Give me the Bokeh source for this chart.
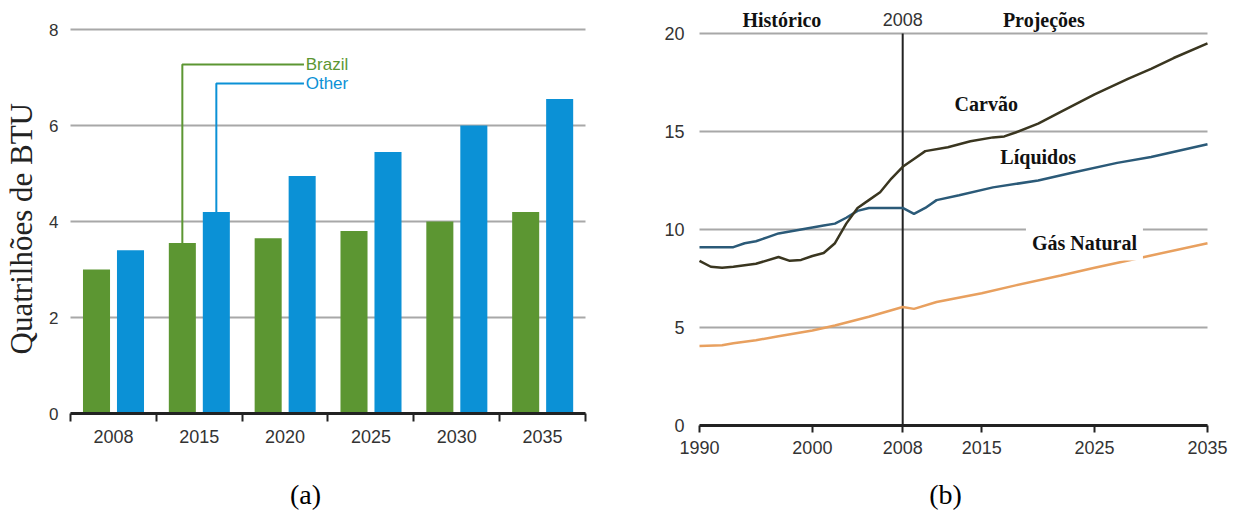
import math
import numpy as np
from bokeh.plotting import figure
from bokeh.models import Range1d, FixedTicker, Label, ColumnDataSource
from bokeh.layouts import row
from bokeh.embed import file_html
from bokeh.resources import INLINE

# ---------------- data: chart (a) ----------------
years_a = ["2008", "2015", "2020", "2025", "2030", "2035"]
brazil = [3.0, 3.55, 3.65, 3.8, 4.0, 4.2]
other = [3.4, 4.2, 4.95, 5.45, 6.0, 6.55]
a_yticks = [0, 2, 4, 6, 8]
a_ylabel = "Quatrilhões de BTU"
legend_year = "2015"

# ---------------- data: chart (b) ----------------
coal_x = [1990, 1991, 1992, 1993, 1995, 1997, 1998, 1999, 2000, 2001, 2002, 2003,
          2004, 2005, 2006, 2007, 2008, 2009, 2010, 2012, 2014, 2016, 2017, 2018,
          2020, 2022, 2025, 2028, 2030, 2032, 2035]
coal_y = [8.4, 8.1, 8.05, 8.1, 8.25, 8.6, 8.4, 8.45, 8.65, 8.8, 9.3, 10.3,
          11.1, 11.5, 11.9, 12.6, 13.2, 13.6, 14.0, 14.2, 14.5, 14.7, 14.75, 14.95,
          15.4, 16.0, 16.9, 17.7, 18.2, 18.75, 19.5]
liq_x = [1990, 1993, 1994, 1995, 1996, 1997, 1998, 1999, 2000, 2001, 2002, 2003,
         2004, 2005, 2008, 2009, 2010, 2011, 2013, 2016, 2020, 2023, 2027, 2030, 2035]
liq_y = [9.1, 9.1, 9.3, 9.4, 9.6, 9.8, 9.9, 10.0, 10.1, 10.2, 10.3, 10.6,
         10.95, 11.1, 11.1, 10.8, 11.1, 11.5, 11.75, 12.15, 12.5, 12.9, 13.4, 13.7, 14.35]
gas_x = [1990, 1992, 1993, 1995, 1997, 2000, 2002, 2005, 2008, 2009, 2011, 2015,
         2018, 2022, 2025, 2029, 2035]
gas_y = [4.05, 4.1, 4.2, 4.35, 4.55, 4.85, 5.1, 5.55, 6.05, 5.95, 6.3, 6.75,
         7.15, 7.65, 8.05, 8.55, 9.3]
b_xticks = [1990, 2000, 2008, 2015, 2025, 2035]
b_yticks = [0, 5, 10, 15, 20]
divider_year = 2008
captions = ["(a)", "(b)"]

GREEN = "#5c9632"
BLUE = "#0b91d6"
COAL = "#3a3620"
LIQ = "#2b5a78"
GAS = "#e8a05f"
GRID = "#a8a8a8"
TICKC = "#333333"
SANS = "Liberation Sans"
SERIF = "Liberation Serif"

H = 510
TOP = 8

# ================= chart (a) =================
na = len(years_a)
pa = figure(width=640, height=H, x_range=Range1d(-0.8155, 6.6408), y_range=Range1d(-2.0208, 8.4375),
            output_backend="svg", toolbar_location=None,
            min_border_left=0, min_border_right=0, min_border_top=TOP, min_border_bottom=0)
pa.outline_line_color = None

xa = np.arange(na) + 0.5
src = ColumnDataSource(dict(xb=xa - 0.197, xo=xa + 0.199, brazil=brazil, other=other))
pa.vbar(x="xb", top="brazil", bottom=0, width=0.315, source=src, fill_color=GREEN, line_color=None)
pa.vbar(x="xo", top="other", bottom=0, width=0.315, source=src, fill_color=BLUE, line_color=None)

# leader-line legend
i = years_a.index(legend_year)
leg_end = 2.72
pa.line([xa[i] - 0.197, xa[i] - 0.197, leg_end], [brazil[i], 7.27, 7.27], line_color=GREEN, line_width=2)
pa.line([xa[i] + 0.199, xa[i] + 0.199, leg_end], [other[i], 6.875, 6.875], line_color=BLUE, line_width=2)
pa.add_layout(Label(x=leg_end + 0.02, y=7.27, text="Brazil", text_align="left", text_baseline="middle",
                    text_color=GREEN, text_font=SANS, text_font_size="17px"))
pa.add_layout(Label(x=leg_end + 0.02, y=6.875, text="Other", text_align="left", text_baseline="middle",
                    text_color=BLUE, text_font=SANS, text_font_size="17px"))
pa.add_layout(Label(x=2.738, y=-1.69, text=captions[0], text_align="center", text_baseline="middle",
                    text_font=SERIF, text_font_size="28px", text_color="black"))
# y-axis title
pa.add_layout(Label(x=-0.57, y=3.85, text=a_ylabel, angle=math.pi / 2, text_align="center",
                    text_baseline="middle", text_font=SERIF, text_font_size="31px",
                    text_color="#222222"))

pa.xgrid.visible = False
pa.ygrid.ticker = FixedTicker(ticks=a_yticks)
pa.ygrid.cross_bounds = (0, na)
pa.ygrid.grid_line_color = GRID
pa.ygrid.grid_line_width = 2

pa.xaxis.fixed_location = 0
pa.xaxis.bounds = (0, na)
pa.xaxis.ticker = FixedTicker(ticks=list(xa), minor_ticks=list(range(na + 1)))
pa.xaxis.major_label_overrides = {float(x): y for x, y in zip(xa, years_a)}
pa.xaxis.major_tick_line_color = None
pa.xaxis.major_tick_out = 8
pa.xaxis.major_tick_in = 0
pa.xaxis.minor_tick_line_color = "#222222"
pa.xaxis.minor_tick_line_width = 2
pa.xaxis.minor_tick_out = 8
pa.xaxis.minor_tick_in = 0
pa.xaxis.axis_line_color = "#222222"
pa.xaxis.axis_line_width = 3
pa.xaxis.major_label_standoff = 8
pa.xaxis.major_label_text_font = SANS
pa.xaxis.major_label_text_font_size = "18px"
pa.xaxis.major_label_text_color = TICKC

pa.yaxis.fixed_location = 0
pa.yaxis.ticker = FixedTicker(ticks=a_yticks)
pa.yaxis.axis_line_color = None
pa.yaxis.major_tick_line_color = None
pa.yaxis.major_tick_out = 0
pa.yaxis.major_tick_in = 0
pa.yaxis.minor_tick_line_color = None
pa.yaxis.major_label_standoff = 12
pa.yaxis.major_label_text_font = SANS
pa.yaxis.major_label_text_font_size = "17px"
pa.yaxis.major_label_text_color = TICKC

# ================= chart (b) =================
pb = figure(width=599, height=H, x_range=Range1d(1984.774, 2037.835), y_range=Range1d(-4.3367, 21.276),
            output_backend="svg", toolbar_location=None,
            min_border_left=0, min_border_right=0, min_border_top=TOP, min_border_bottom=0)
pb.outline_line_color = None
pb.xgrid.visible = False
pb.ygrid.ticker = FixedTicker(ticks=b_yticks)
pb.ygrid.cross_bounds = (b_xticks[0], b_xticks[-1])
pb.ygrid.grid_line_color = GRID
pb.ygrid.grid_line_width = 2

pb.segment(x0=[divider_year], y0=[0], x1=[divider_year], y1=[max(b_yticks)],
           line_color="#222222", line_width=2)
pb.line(gas_x, gas_y, line_color=GAS, line_width=2.5)
pb.line(liq_x, liq_y, line_color=LIQ, line_width=2.5)
pb.line(coal_x, coal_y, line_color=COAL, line_width=2.5)

def blabel(x, y, text, font=SERIF, size="20px", style="bold", color="#111111", **kw):
    pb.add_layout(Label(x=x, y=y, text=text, text_align="center", text_baseline="middle",
                        text_font=font, text_font_size=size, text_font_style=style,
                        text_color=color, **kw))

blabel(1997.3, 20.7, "Histórico")
blabel(divider_year, 20.7, str(divider_year), font=SANS, size="18px", style="normal", color=TICKC)
blabel(2020.5, 20.7, "Projeções")
blabel(2015.4, 16.4, "Carvão")
blabel(2020.0, 13.7, "Líquidos")
blabel(2024.1, 9.29, "Gás Natural", background_fill_color="white", padding=6)
blabel(2011.8, -3.52, captions[1], style="normal", size="28px", color="black")

pb.xaxis.fixed_location = 0
pb.xaxis.bounds = (b_xticks[0], b_xticks[-1])
pb.xaxis.ticker = FixedTicker(ticks=b_xticks)
pb.xaxis.major_tick_line_color = "#222222"
pb.xaxis.major_tick_line_width = 2
pb.xaxis.major_tick_out = 7
pb.xaxis.major_tick_in = 0
pb.xaxis.minor_tick_line_color = None
pb.xaxis.axis_line_color = "#222222"
pb.xaxis.axis_line_width = 3
pb.xaxis.major_label_standoff = 8
pb.xaxis.major_label_text_font = SANS
pb.xaxis.major_label_text_font_size = "18px"
pb.xaxis.major_label_text_color = TICKC

pb.yaxis.fixed_location = b_xticks[0]
pb.yaxis.ticker = FixedTicker(ticks=b_yticks)
pb.yaxis.axis_line_color = None
pb.yaxis.major_tick_line_color = None
pb.yaxis.major_tick_out = 0
pb.yaxis.major_tick_in = 0
pb.yaxis.minor_tick_line_color = None
pb.yaxis.major_label_standoff = 15
pb.yaxis.major_label_text_font = SANS
pb.yaxis.major_label_text_font_size = "18px"
pb.yaxis.major_label_text_color = TICKC

layout = row(pa, pb)
open("out.html", "w").write(file_html(layout, INLINE))
